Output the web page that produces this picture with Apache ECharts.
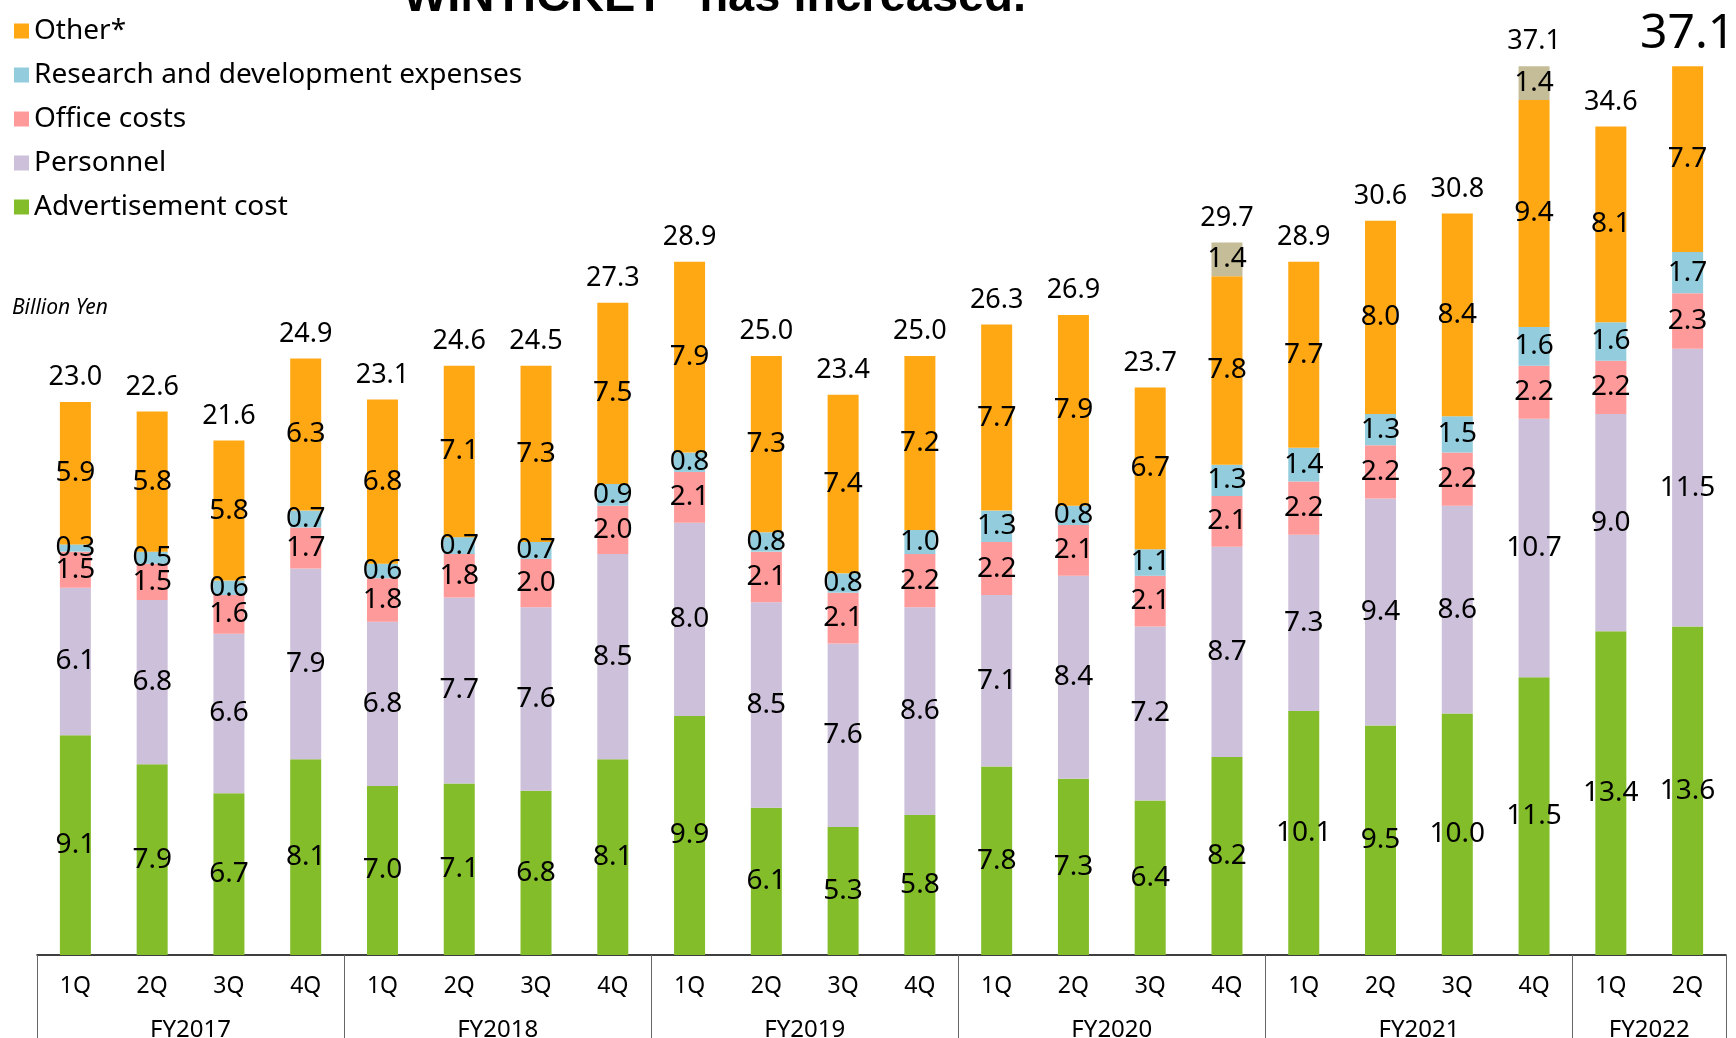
<!DOCTYPE html>
<html>
<head>
<meta charset="utf-8">
<script src="https://cdn.jsdelivr.net/npm/echarts@6/dist/echarts.min.js"></script>
<style>
  html, body { margin: 0; padding: 0; background: #fff; }
  #chart { width: 1736px; height: 1038px; }
</style>
</head>
<body>
<div id="chart"></div>
<script>
const quarters = ["1Q","2Q","3Q","4Q","1Q","2Q","3Q","4Q","1Q","2Q","3Q","4Q","1Q","2Q","3Q","4Q","1Q","2Q","3Q","4Q","1Q","2Q"];
const fiscalYears = ["FY2017","FY2018","FY2019","FY2020","FY2021","FY2022"];
// where each fiscal year starts / where its label sits, in quarter slots
const fyBounds = [0, 4, 8, 12, 16, 20, 22];
const fyCenters = [2, 6, 10, 14, 18, 21];

const advertisement = [9.1,7.9,6.7,8.1,7.0,7.1,6.8,8.1,9.9,6.1,5.3,5.8,7.8,7.3,6.4,8.2,10.1,9.5,10.0,11.5,13.4,13.6];
const personnel     = [6.1,6.8,6.6,7.9,6.8,7.7,7.6,8.5,8.0,8.5,7.6,8.6,7.1,8.4,7.2,8.7,7.3,9.4,8.6,10.7,9.0,11.5];
const office        = [1.5,1.5,1.6,1.7,1.8,1.8,2.0,2.0,2.1,2.1,2.1,2.2,2.2,2.1,2.1,2.1,2.2,2.2,2.2,2.2,2.2,2.3];
const research      = [0.3,0.5,0.6,0.7,0.6,0.7,0.7,0.9,0.8,0.8,0.8,1.0,1.3,0.8,1.1,1.3,1.4,1.3,1.5,1.6,1.6,1.7];
const other         = [5.9,5.8,5.8,6.3,6.8,7.1,7.3,7.5,7.9,7.3,7.4,7.2,7.7,7.9,6.7,7.8,7.7,8.0,8.4,9.4,8.1,7.7];
const extra         = [null,null,null,null,null,null,null,null,null,null,null,null,null,null,null,1.4,null,null,null,1.4,null,null];
const totals        = [23.0,22.6,21.6,24.9,23.1,24.6,24.5,27.3,28.9,25.0,23.4,25.0,26.3,26.9,23.7,29.7,28.9,30.6,30.8,37.1,34.6,37.1];

const FONT = "Noto Sans";

const chart = echarts.init(document.getElementById("chart"));

const segLabel = {
  show: true,
  position: "inside",
  color: "#000",
  fontFamily: FONT,
  fontSize: 28,
  formatter: (p) => p.value.toFixed(1),
};

function stackBar(name, data, color) {
  return {
    name: name,
    type: "bar",
    stack: "cost",
    barWidth: 31,
    data: data,
    itemStyle: { color: color },
    label: segLabel,
  };
}

const option = {
  animation: false,
  textStyle: { fontFamily: FONT },
  title: [
    {
      text: "WINTICKET\" has increased.",
      left: 398,
      top: -30,
      textStyle: { fontFamily: "Liberation Sans", fontWeight: "bold", fontSize: 47, color: "#000" },
    },
    {
      text: "Billion Yen",
      left: 7,
      top: 293,
      textStyle: { fontFamily: FONT, fontStyle: "italic", fontWeight: "normal", fontSize: 21, color: "#000" },
    },
  ],
  legend: {
    orient: "vertical",
    left: 9,
    top: 12,
    itemWidth: 15,
    itemHeight: 15,
    itemGap: 16,
    icon: "rect",
    data: ["Other*", "Research and development expenses", "Office costs", "Personnel", "Advertisement cost"],
    textStyle: { fontFamily: FONT, fontSize: 28, color: "#000" },
  },
  grid: { left: 37, right: 10, top: 13, bottom: 83, containLabel: false, outerBoundsMode: "none" },
  xAxis: [
    {
      type: "category",
      data: quarters,
      axisLine: { lineStyle: { color: "#000", width: 1.5 } },
      axisTick: { interval: 0, length: 43, lineStyle: { color: "#666" } },
      axisLabel: { interval: 0, margin: 20, color: "#000", fontFamily: FONT, fontSize: 23 },
    },
    {
      type: "value",
      position: "bottom",
      min: 0,
      max: 22,
      axisLine: { show: false },
      splitLine: { show: false },
      axisTick: { show: true, customValues: fyBounds, length: 90, lineStyle: { color: "#666" } },
      axisLabel: {
        customValues: fyCenters,
        margin: 63,
        color: "#000",
        fontFamily: FONT,
        fontSize: 24,
        formatter: (v) => fiscalYears[fyCenters.indexOf(v)],
      },
    },
  ],
  yAxis: { type: "value", min: 0, max: 39, show: false },
  series: [
    stackBar("Advertisement cost", advertisement, "#83BD2A"),
    stackBar("Personnel", personnel, "#CCC0DA"),
    stackBar("Office costs", office, "#FF9A9A"),
    stackBar("Research and development expenses", research, "#93CDDD"),
    stackBar("Other*", other, "#FFA813"),
    stackBar("One-off", extra, "#C4BD97"),
    {
      name: "Total",
      type: "bar",
      stack: "cost",
      barWidth: 31,
      itemStyle: { color: "transparent" },
      data: totals.map((t, i) => ({
        value: 0,
        label: i === totals.length - 1 ? { fontSize: 48, distance: 8 } : {},
      })),
      label: {
        show: true,
        position: "top",
        distance: 11,
        color: "#000",
        fontFamily: FONT,
        fontSize: 27,
        formatter: (p) => totals[p.dataIndex].toFixed(1),
      },
    },
  ],
};

chart.setOption(option);
</script>
</body>
</html>
